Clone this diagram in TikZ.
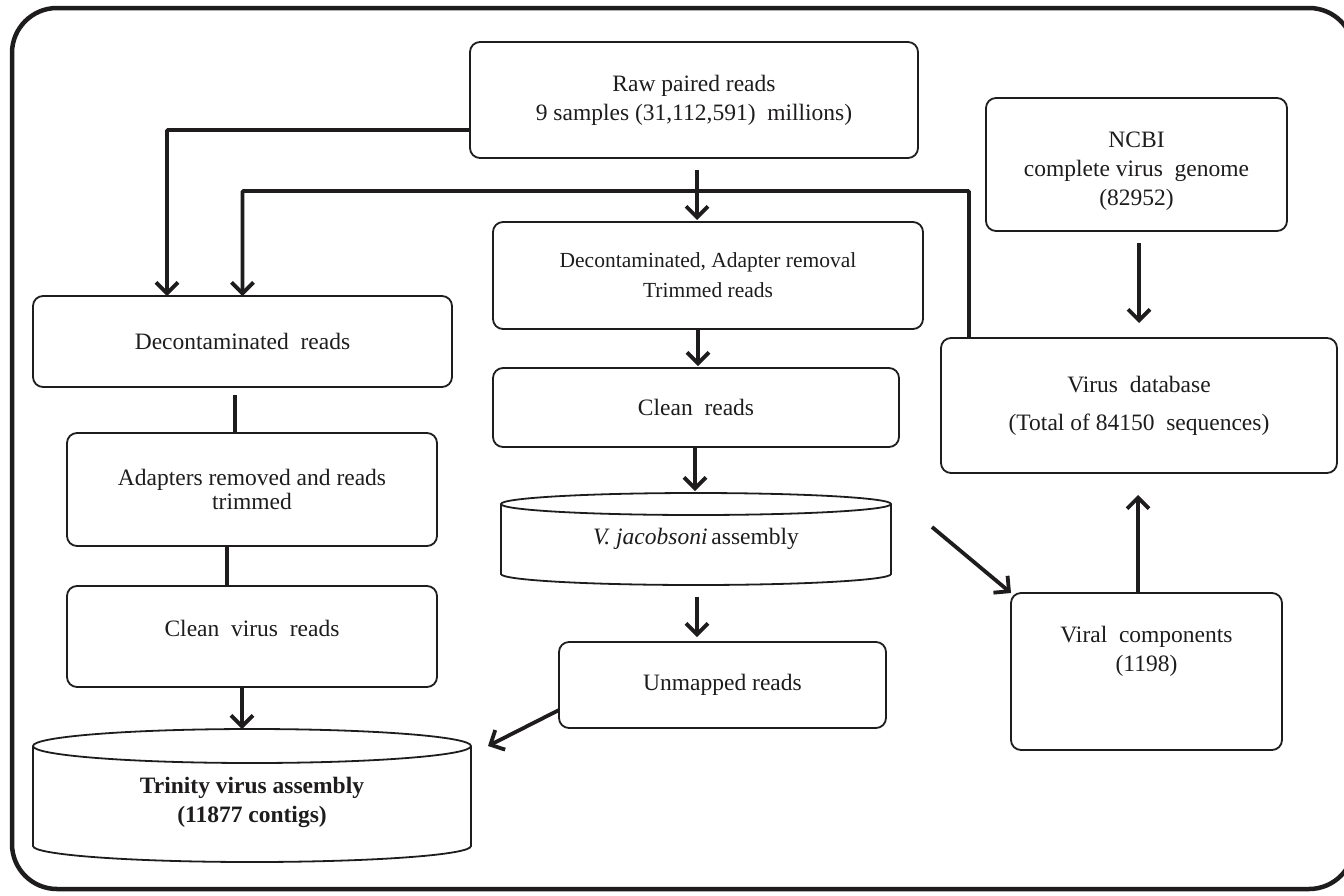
\documentclass[tikz,border=0pt]{standalone}
\usepackage{fontspec}
\setmainfont{Liberation Serif}
\usetikzlibrary{arrows.meta}
\definecolor{ink}{RGB}{30,28,29}
\begin{document}
\begin{tikzpicture}[x=1pt,y=-1pt,
  box/.style={draw=ink, line width=1.8pt, rounded corners=10pt, align=center,
    inner sep=0pt, outer sep=0pt, text=ink, font=\fontsize{23.5}{29}\selectfont},
  cylbody/.style={inner sep=0pt, outer sep=0pt, align=center, text=ink,
    font=\fontsize{23.5}{29}\selectfont},
  cylline/.style={draw=ink, line width=1.8pt},
  arr/.style={draw=ink, line width=3.8pt, -{Straight Barb[length=11pt,width=22pt]}},
  link/.style={draw=ink, line width=3.8pt}]
\useasboundingbox (0,0) rectangle (1344,895);
\clip (0,0) rectangle (1344,895);
\draw[ink, line width=4.5pt, rounded corners=45pt] (12,8) rectangle (1354,889);

% boxes
\node[box, minimum width=448pt, minimum height=116pt] (raw) at (694,100)
  {Raw paired reads\\9 samples (31,112,591)\ \ millions)};
\node[box, minimum width=301pt, minimum height=133pt] (ncbi) at (1136.5,164.5)
  {\mbox{}\\NCBI\\complete virus\ \ genome\\(82952)};
\node[box, minimum width=430pt, minimum height=107pt, font=\fontsize{21.5}{30}\selectfont] (dat) at (708,275.5)
  {Decontaminated, Adapter removal\\Trimmed reads};
\node[box, minimum width=419pt, minimum height=91pt] (dr) at (242.5,341.5)
  {Decontaminated\ \ reads};
\node[box, minimum width=370pt, minimum height=113pt] (ar) at (252,489.5)
  {Adapters removed\ and reads\\[-5pt]trimmed};
\node[box, minimum width=370pt, minimum height=101pt] (cvr) at (252,636.5)
  {Clean\ \ virus\ \ reads\\[-12pt]\mbox{}};
\node[box, minimum width=406pt, minimum height=79pt] (cr) at (696,407.5)
  {Clean\ \ reads};
\node[box, minimum width=396pt, minimum height=135pt] (vdb) at (1139,405.5)
  {Virus\ \ database\\[9pt](Total of 84150\ \ sequences)};
\node[box, minimum width=271pt, minimum height=157pt] (vc) at (1146.5,671.5)
  {Viral\ \ components\\(1198)\\[16pt]\mbox{}};
\node[box, minimum width=327pt, minimum height=86pt] (um) at (722.5,685)
  {Unmapped reads};

% cylinders
\node[cylbody, minimum width=390pt, minimum height=70pt] (vj) at (696,539)
  {\textit{V. jacobsoni}\,assembly};
\draw[cylline] (vj.north) ellipse [x radius=195pt, y radius=11pt];
\draw[cylline] (vj.north west) -- (vj.south west)
  arc [start angle=180, end angle=360, x radius=195pt, y radius=11pt] -- (vj.north east);

\node[cylbody, minimum width=438pt, minimum height=100pt, font=\fontsize{23.5}{29}\selectfont\bfseries] (trin) at (252,796)
  {\mbox{}\\Trinity virus assembly\\(11877 contigs)};
\draw[cylline] (trin.north) ellipse [x radius=219pt, y radius=17pt];
\draw[cylline] (trin.north west) -- (trin.south west)
  arc [start angle=180, end angle=360, x radius=219pt, y radius=16pt] -- (trin.north east);

\coordinate (trintop) at ([yshift=17pt]trin.north);
\coordinate (trinr) at ([xshift=17pt]trin.north east);
\coordinate (vjtop) at ([yshift=11pt]vj.north);
\coordinate (vjbot) at ([yshift=-11pt]vj.south);
\coordinate (diagstart) at ([xshift=41pt,yshift=12pt]vj.east);

% connectors
\draw[arr, rounded corners=1pt] ([yshift=-30pt]raw.west) -| ([xshift=-75.5pt]dr.north);
\draw[arr, rounded corners=1pt] ([xshift=28pt]vdb.north west) -- ++(0,-147) -| (dr.north);
\draw[arr, shorten <=12pt, shorten >=2pt] ([xshift=3pt]raw.south) -- ([xshift=3pt]raw.south |- dat.north);
\draw[link, shorten <=8pt] ([xshift=-7.5pt]dr.south) -- ([xshift=-7.5pt]dr.south |- ar.north);
\draw[link] ([xshift=-25pt]ar.south) -- ([xshift=-25pt]ar.south |- cvr.north);
\draw[arr] ([xshift=-10pt]cvr.south) -- ([xshift=-10pt]cvr.south |- trintop);
\draw[arr, shorten >=2pt] ([xshift=-10pt]dat.south) -- ([xshift=-10pt]dat.south |- cr.north);
\draw[arr, shorten >=2pt] ([xshift=-1pt]cr.south) -- ([xshift=-1pt]cr.south |- vjtop);
\draw[arr, shorten <=12pt, shorten >=5pt] ([xshift=1pt]vjbot) -- ([xshift=1pt]vjbot |- um.north);
\draw[arr] ([yshift=-25pt]um.west) -- (trinr);
\draw[arr] (diagstart) -- (vc.north west);
\draw[arr, shorten >=22pt] ([xshift=-8.5pt]vc.north) -- ([xshift=-8.5pt]vc.north |- vdb.south);
\draw[arr, shorten <=12pt, shorten >=15pt] ([xshift=2.5pt]ncbi.south) -- ([xshift=2.5pt]ncbi.south |- vdb.north);
\end{tikzpicture}
\end{document}
